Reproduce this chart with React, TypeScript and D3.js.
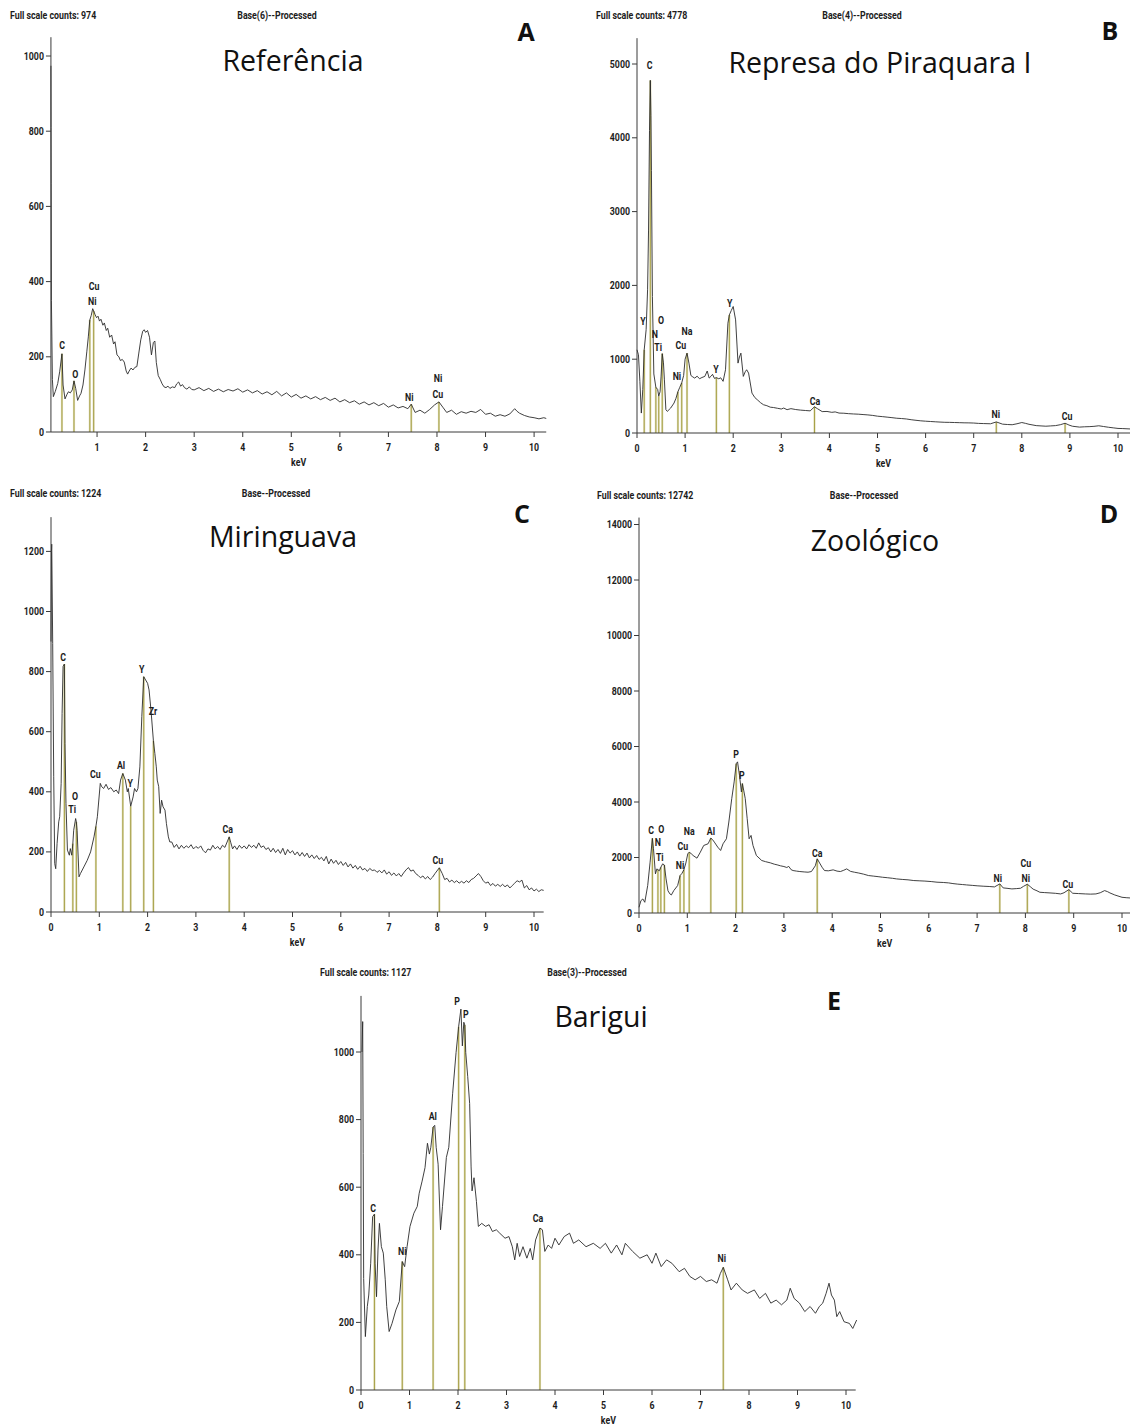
import React from 'react';
import * as d3 from 'd3';

type Pt = [number, number];
type Lbl = { t: string; e: number; c: number };

// ---------- Spectrum A: Referência ----------
const spectrumA: Pt[] = [
  [0.05, 974], [0.052, 810], [0.055, 660], [0.06, 350], [0.08, 140], [0.1, 94], [0.14, 108], [0.19, 129], [0.23, 160],
  [0.277, 208], [0.3, 125], [0.34, 88], [0.38, 100], [0.41, 107], [0.45, 104], [0.49, 112], [0.525, 136], [0.56, 116],
  [0.6, 84], [0.64, 96], [0.67, 103], [0.71, 125], [0.75, 165], [0.79, 215], [0.82, 253], [0.851, 298], [0.88, 310],
  [0.91, 328], [0.93, 322], [0.96, 312], [0.99, 304], [1.02, 308], [1.05, 295], [1.08, 300], [1.12, 284], [1.15, 290],
  [1.19, 270], [1.22, 276], [1.26, 252], [1.3, 258], [1.34, 234], [1.37, 240], [1.41, 205], [1.45, 200], [1.48, 190],
  [1.52, 193], [1.56, 186], [1.6, 162], [1.63, 154], [1.66, 162], [1.7, 170], [1.74, 165], [1.78, 172], [1.82, 174],
  [1.86, 210], [1.9, 245], [1.94, 268], [1.97, 272], [2.0, 265], [2.04, 270], [2.08, 252], [2.12, 205], [2.16, 238],
  [2.19, 242], [2.22, 185], [2.26, 150], [2.3, 140], [2.34, 128], [2.38, 120], [2.42, 118], [2.46, 122], [2.5, 116],
  [2.55, 120], [2.6, 118], [2.64, 128], [2.68, 133], [2.72, 122], [2.76, 126], [2.8, 118], [2.85, 114], [2.9, 120],
  [2.95, 113], [3.0, 112], [3.1, 118], [3.2, 110], [3.3, 116], [3.4, 108], [3.5, 114], [3.6, 107], [3.7, 113],
  [3.8, 109], [3.9, 115], [4.0, 106], [4.1, 112], [4.2, 104], [4.3, 110], [4.4, 101], [4.5, 107], [4.6, 99],
  [4.7, 108], [4.8, 96], [4.9, 104], [5.0, 93], [5.1, 100], [5.2, 90], [5.3, 96], [5.4, 88], [5.5, 94], [5.6, 86],
  [5.7, 92], [5.8, 84], [5.9, 90], [6.0, 80], [6.1, 86], [6.2, 78], [6.3, 83], [6.4, 74], [6.5, 80], [6.6, 72],
  [6.7, 78], [6.8, 70], [6.9, 76], [7.0, 66], [7.1, 72], [7.2, 64], [7.3, 68], [7.4, 62], [7.47, 74], [7.55, 52],
  [7.65, 58], [7.75, 50], [7.85, 60], [7.95, 72], [8.04, 80], [8.12, 66], [8.2, 52], [8.3, 58], [8.4, 47], [8.5, 54],
  [8.6, 50], [8.7, 55], [8.8, 52], [8.9, 60], [9.0, 47], [9.1, 50], [9.2, 42], [9.3, 46], [9.4, 42], [9.5, 48],
  [9.6, 62], [9.65, 55], [9.7, 50], [9.8, 44], [9.9, 40], [10.0, 38], [10.1, 35], [10.2, 38], [10.25, 36],
];
const linesA = [0.277, 0.525, 0.851, 0.93, 7.47, 8.04];
const labelsA: Lbl[] = [
  { t: 'C', e: 0.28, c: 229 }, { t: 'O', e: 0.55, c: 152 }, { t: 'Cu', e: 0.94, c: 386 }, { t: 'Ni', e: 0.9, c: 348 },
  { t: 'Ni', e: 7.43, c: 93 }, { t: 'Ni', e: 8.02, c: 141 }, { t: 'Cu', e: 8.02, c: 101 },
];
const yTicksA = [0, 200, 400, 600, 800, 1000];
const xTicksA = [1, 2, 3, 4, 5, 6, 7, 8, 9, 10];

// ---------- Spectrum B: Represa do Piraquara I ----------
const spectrumB: Pt[] = [
  [0, 1128], [0.03, 1060], [0.06, 700], [0.09, 270], [0.12, 590], [0.15, 1128], [0.19, 1400], [0.22, 1940],
  [0.24, 2750], [0.26, 4100], [0.277, 4778], [0.29, 4300], [0.3, 3560], [0.32, 1850], [0.35, 800], [0.392, 620],
  [0.43, 590], [0.452, 500], [0.48, 560], [0.5, 760], [0.525, 1075], [0.55, 950], [0.57, 720], [0.6, 316],
  [0.63, 293], [0.7, 338], [0.77, 406], [0.81, 470], [0.851, 560], [0.89, 620], [0.93, 680], [0.97, 780],
  [1.0, 1000], [1.04, 1082], [1.08, 947], [1.12, 780], [1.16, 760], [1.2, 744], [1.25, 770], [1.3, 735],
  [1.35, 752], [1.41, 767], [1.46, 840], [1.5, 744], [1.54, 770], [1.57, 795], [1.61, 740], [1.65, 750],
  [1.7, 735], [1.74, 748], [1.79, 700], [1.84, 857], [1.89, 1488], [1.92, 1600], [1.96, 1660], [2.0, 1714],
  [2.05, 1533], [2.1, 947], [2.13, 1030], [2.16, 1082], [2.21, 767], [2.25, 830], [2.28, 857], [2.32, 812],
  [2.39, 541], [2.45, 480], [2.5, 451], [2.57, 410], [2.63, 383], [2.7, 370], [2.77, 350], [2.84, 345],
  [2.92, 335], [3.0, 325], [3.05, 338], [3.12, 316], [3.2, 330], [3.3, 318], [3.4, 310], [3.5, 305], [3.6, 300],
  [3.69, 355], [3.75, 330], [3.85, 290], [3.95, 292], [4.05, 280], [4.12, 286], [4.2, 270], [4.3, 268],
  [4.4, 262], [4.5, 258], [4.6, 255], [4.7, 250], [4.8, 245], [4.9, 238], [5.0, 228], [5.1, 222], [5.2, 215],
  [5.3, 208], [5.4, 200], [5.5, 196], [5.6, 190], [5.7, 180], [5.8, 172], [5.9, 165], [6.0, 160], [6.1, 156],
  [6.2, 152], [6.3, 148], [6.4, 145], [6.5, 144], [6.6, 142], [6.7, 140], [6.8, 138], [6.9, 137], [7.0, 135],
  [7.1, 130], [7.2, 128], [7.35, 125], [7.47, 150], [7.6, 120], [7.7, 115], [7.8, 112], [7.9, 125], [8.0, 142],
  [8.08, 130], [8.15, 118], [8.3, 100], [8.4, 96], [8.5, 92], [8.6, 96], [8.7, 100], [8.8, 112], [8.9, 132],
  [8.98, 108], [9.05, 92], [9.2, 80], [9.3, 84], [9.4, 86], [9.5, 90], [9.6, 98], [9.7, 88], [9.8, 78],
  [9.9, 70], [10.0, 62], [10.1, 60], [10.25, 55],
];
const linesB = [0.15, 0.277, 0.392, 0.452, 0.525, 0.851, 0.93, 1.04, 1.65, 1.92, 3.69, 7.47, 8.9];
const labelsB: Lbl[] = [
  { t: 'C', e: 0.26, c: 4980 }, { t: 'Y', e: 0.125, c: 1517 }, { t: 'O', e: 0.5, c: 1530 }, { t: 'N', e: 0.37, c: 1340 },
  { t: 'Ti', e: 0.44, c: 1165 }, { t: 'Na', e: 1.04, c: 1370 }, { t: 'Cu', e: 0.91, c: 1180 }, { t: 'Ni', e: 0.83, c: 760 },
  { t: 'Y', e: 1.64, c: 867 }, { t: 'Y', e: 1.93, c: 1760 }, { t: 'Ca', e: 3.7, c: 433 }, { t: 'Ni', e: 7.46, c: 244 },
  { t: 'Cu', e: 8.94, c: 217 },
];
const yTicksB = [0, 1000, 2000, 3000, 4000, 5000];
const xTicksB = [0, 1, 2, 3, 4, 5, 6, 7, 8, 9, 10];

// ---------- Spectrum C: Miringuava ----------
const spectrumC: Pt[] = [
  [0, 900], [0.01, 1200], [0.015, 1224], [0.035, 894], [0.056, 450], [0.077, 161], [0.098, 144], [0.126, 228],
  [0.16, 300], [0.18, 317], [0.21, 428], [0.23, 661], [0.25, 817], [0.277, 825], [0.29, 561], [0.31, 361],
  [0.34, 206], [0.38, 189], [0.4, 211], [0.43, 189], [0.452, 228], [0.47, 272], [0.51, 311], [0.525, 300],
  [0.54, 272], [0.58, 117], [0.61, 128], [0.68, 150], [0.75, 172], [0.82, 200], [0.89, 250], [0.93, 285],
  [0.96, 317], [1.02, 428], [1.05, 417], [1.09, 411], [1.14, 425], [1.19, 408], [1.24, 414], [1.3, 400],
  [1.35, 406], [1.4, 394], [1.44, 439], [1.487, 461], [1.54, 439], [1.58, 400], [1.6, 411], [1.65, 352],
  [1.7, 383], [1.73, 411], [1.77, 400], [1.8, 411], [1.84, 483], [1.88, 650], [1.92, 783], [1.96, 772],
  [2.0, 761], [2.03, 739], [2.07, 672], [2.12, 570], [2.15, 528], [2.18, 483], [2.2, 439], [2.23, 417],
  [2.26, 328], [2.29, 372], [2.32, 350], [2.36, 339], [2.39, 294], [2.43, 250], [2.46, 233], [2.5, 233],
  [2.55, 215], [2.6, 225], [2.65, 210], [2.7, 222], [2.75, 212], [2.8, 220], [2.85, 214], [2.9, 224], [2.95, 210],
  [3.0, 218], [3.05, 212], [3.1, 220], [3.15, 205], [3.2, 197], [3.25, 210], [3.3, 206], [3.35, 222], [3.4, 210],
  [3.45, 218], [3.5, 208], [3.55, 222], [3.6, 215], [3.69, 250], [3.72, 232], [3.76, 210], [3.8, 220], [3.85, 208],
  [3.9, 222], [3.95, 212], [4.0, 220], [4.05, 210], [4.1, 224], [4.15, 215], [4.2, 222], [4.25, 212], [4.3, 230],
  [4.35, 215], [4.4, 220], [4.45, 208], [4.5, 214], [4.55, 200], [4.6, 212], [4.65, 198], [4.7, 208], [4.75, 195],
  [4.8, 212], [4.85, 190], [4.9, 208], [4.95, 196], [5.0, 204], [5.05, 190], [5.1, 200], [5.15, 186], [5.2, 198],
  [5.25, 185], [5.3, 196], [5.35, 180], [5.4, 190], [5.45, 178], [5.5, 188], [5.55, 175], [5.6, 182], [5.65, 170],
  [5.7, 185], [5.75, 160], [5.8, 176], [5.85, 162], [5.9, 172], [5.95, 158], [6.0, 168], [6.05, 155], [6.1, 165],
  [6.15, 150], [6.2, 160], [6.25, 146], [6.3, 155], [6.35, 142], [6.4, 152], [6.45, 140], [6.5, 145], [6.55, 135],
  [6.6, 145], [6.65, 138], [6.7, 140], [6.75, 132], [6.8, 138], [6.85, 130], [6.9, 140], [6.95, 126], [7.0, 134],
  [7.05, 122], [7.1, 130], [7.15, 120], [7.2, 128], [7.25, 118], [7.3, 130], [7.35, 140], [7.4, 148], [7.45, 136],
  [7.5, 140], [7.55, 128], [7.6, 122], [7.65, 114], [7.7, 120], [7.75, 110], [7.8, 118], [7.85, 108], [7.9, 116],
  [7.95, 128], [8.04, 147], [8.1, 128], [8.15, 108], [8.2, 112], [8.25, 100], [8.3, 106], [8.35, 98], [8.4, 104],
  [8.45, 96], [8.5, 102], [8.55, 96], [8.6, 104], [8.65, 98], [8.7, 108], [8.75, 112], [8.8, 120], [8.85, 128],
  [8.9, 118], [8.95, 104], [9.0, 96], [9.05, 100], [9.1, 88], [9.15, 95], [9.2, 86], [9.25, 92], [9.3, 85],
  [9.35, 92], [9.4, 84], [9.45, 90], [9.5, 80], [9.55, 88], [9.6, 96], [9.65, 104], [9.7, 100], [9.75, 106],
  [9.8, 80], [9.85, 88], [9.9, 74], [9.95, 80], [10.0, 70], [10.05, 76], [10.1, 68], [10.15, 74], [10.2, 72],
];
const linesC = [0.277, 0.452, 0.525, 0.93, 1.487, 1.65, 1.92, 2.12, 3.69, 8.04];
const labelsC: Lbl[] = [
  { t: 'C', e: 0.25, c: 848 }, { t: 'O', e: 0.5, c: 383 }, { t: 'Ti', e: 0.44, c: 340 }, { t: 'Cu', e: 0.92, c: 456 },
  { t: 'Al', e: 1.45, c: 486 }, { t: 'Y', e: 1.64, c: 426 }, { t: 'Y', e: 1.88, c: 807 }, { t: 'Zr', e: 2.11, c: 668 },
  { t: 'Ca', e: 3.66, c: 273 }, { t: 'Cu', e: 8.01, c: 173 },
];
const yTicksC = [0, 200, 400, 600, 800, 1000, 1200];
const xTicksC = [0, 1, 2, 3, 4, 5, 6, 7, 8, 9, 10];

// ---------- Spectrum D: Zoológico ----------
const spectrumD: Pt[] = [
  [0, 205], [0.04, 446], [0.08, 506], [0.12, 386], [0.18, 988], [0.23, 1832], [0.277, 2690], [0.3, 2314],
  [0.34, 1410], [0.37, 1590], [0.392, 1560], [0.42, 1520], [0.452, 1650], [0.49, 1771], [0.525, 1730],
  [0.56, 1229], [0.6, 800], [0.64, 687], [0.67, 650], [0.72, 807], [0.8, 988], [0.851, 1350], [0.89, 1430],
  [0.93, 1560], [0.97, 1800], [1.01, 2133], [1.04, 2190], [1.08, 2140], [1.12, 2073], [1.2, 1976], [1.27, 2193],
  [1.34, 2434], [1.43, 2494], [1.487, 2699], [1.52, 2650], [1.56, 2555], [1.63, 2374], [1.69, 2253], [1.74, 2494],
  [1.81, 2675], [1.86, 3278], [1.92, 4121], [1.97, 4724], [2.013, 5380], [2.04, 5447], [2.08, 4965], [2.12, 4362],
  [2.14, 4663], [2.17, 4400], [2.2, 4121], [2.24, 3398], [2.28, 2675], [2.32, 2796], [2.36, 2434], [2.43, 2073],
  [2.54, 1892], [2.62, 1850], [2.72, 1807], [2.8, 1760], [2.86, 1735], [2.93, 1700], [3.0, 1675], [3.06, 1640],
  [3.1, 1680], [3.15, 1560], [3.19, 1530], [3.26, 1510], [3.33, 1494], [3.42, 1480], [3.5, 1470], [3.57, 1494],
  [3.65, 1700], [3.69, 1952], [3.74, 1800], [3.79, 1650], [3.84, 1530], [3.92, 1520], [4.02, 1555], [4.1, 1510],
  [4.17, 1494], [4.24, 1540], [4.3, 1590], [4.38, 1500], [4.46, 1470], [4.55, 1440], [4.65, 1400], [4.75, 1350],
  [4.85, 1330], [4.95, 1310], [5.04, 1289], [5.15, 1270], [5.25, 1250], [5.33, 1229], [5.45, 1210], [5.57, 1195],
  [5.69, 1169], [5.8, 1160], [5.92, 1150], [6.05, 1133], [6.17, 1110], [6.3, 1100], [6.41, 1085], [6.5, 1060],
  [6.6, 1040], [6.7, 1025], [6.78, 1012], [6.9, 995], [7.0, 980], [7.14, 964], [7.25, 955], [7.36, 940],
  [7.47, 1048], [7.54, 904], [7.62, 890], [7.72, 868], [7.82, 880], [7.9, 892], [7.96, 960], [8.04, 1036],
  [8.1, 950], [8.16, 860], [8.24, 800], [8.3, 747], [8.4, 735], [8.51, 723], [8.62, 710], [8.73, 687], [8.8, 730],
  [8.9, 843], [8.98, 711], [9.1, 700], [9.24, 687], [9.35, 680], [9.46, 687], [9.55, 730], [9.64, 807], [9.7, 770],
  [9.75, 723], [9.85, 650], [10.0, 566], [10.1, 550], [10.17, 542],
];
const linesD = [0.277, 0.392, 0.452, 0.525, 0.851, 0.93, 1.04, 1.487, 2.013, 2.14, 3.69, 7.47, 8.04, 8.9];
const labelsD: Lbl[] = [
  { t: 'C', e: 0.25, c: 2955 }, { t: 'O', e: 0.46, c: 3027 }, { t: 'N', e: 0.39, c: 2523 }, { t: 'Ti', e: 0.43, c: 2018 },
  { t: 'Na', e: 1.04, c: 2919 }, { t: 'Cu', e: 0.91, c: 2414 }, { t: 'Ni', e: 0.85, c: 1694 }, { t: 'Al', e: 1.49, c: 2919 },
  { t: 'P', e: 2.01, c: 5694 }, { t: 'P', e: 2.13, c: 4937 }, { t: 'Ca', e: 3.69, c: 2162 }, { t: 'Ni', e: 7.43, c: 1261 },
  { t: 'Cu', e: 8.01, c: 1766 }, { t: 'Ni', e: 8.01, c: 1261 }, { t: 'Cu', e: 8.88, c: 1045 },
];
const yTicksD = [0, 2000, 4000, 6000, 8000, 10000, 12000, 14000];
const xTicksD = [0, 1, 2, 3, 4, 5, 6, 7, 8, 9, 10];

// ---------- Spectrum E: Barigui ----------
const spectrumE: Pt[] = [
  [0.02, 1000], [0.035, 1090], [0.045, 700], [0.055, 330], [0.09, 158], [0.13, 247], [0.16, 281], [0.2, 375],
  [0.24, 513], [0.277, 520], [0.29, 375], [0.32, 276], [0.35, 414], [0.38, 493], [0.42, 424], [0.46, 405],
  [0.5, 326], [0.53, 247], [0.58, 173], [0.64, 197], [0.72, 237], [0.79, 262], [0.851, 380], [0.9, 365],
  [0.95, 424], [1.01, 484], [1.09, 523], [1.16, 543], [1.2, 582], [1.26, 618], [1.32, 658], [1.37, 730],
  [1.41, 698], [1.44, 718], [1.487, 778], [1.52, 783], [1.55, 718], [1.59, 668], [1.64, 474], [1.68, 543],
  [1.76, 688], [1.81, 718], [1.89, 878], [1.96, 998], [2.013, 1075], [2.06, 1127], [2.09, 1018], [2.12, 1088],
  [2.14, 1080], [2.16, 998], [2.2, 928], [2.24, 848], [2.27, 660], [2.29, 589], [2.33, 628], [2.38, 558],
  [2.42, 484], [2.49, 493], [2.57, 484], [2.64, 489], [2.71, 469], [2.79, 474], [2.86, 464], [2.97, 449],
  [3.05, 454], [3.12, 424], [3.17, 385], [3.22, 434], [3.27, 395], [3.34, 424], [3.42, 390], [3.49, 419],
  [3.54, 385], [3.6, 444], [3.69, 479], [3.74, 474], [3.79, 410], [3.86, 429], [3.93, 419], [4.0, 449],
  [4.08, 429], [4.19, 454], [4.3, 464], [4.38, 434], [4.49, 444], [4.64, 424], [4.79, 434], [4.93, 419],
  [5.04, 434], [5.16, 405], [5.27, 429], [5.38, 400], [5.45, 434], [5.6, 410], [5.75, 390], [5.9, 400],
  [6.0, 375], [6.08, 405], [6.19, 365], [6.3, 385], [6.41, 375], [6.56, 350], [6.67, 360], [6.78, 336],
  [6.89, 326], [7.0, 336], [7.12, 321], [7.23, 326], [7.34, 316], [7.41, 345], [7.47, 363], [7.56, 326],
  [7.63, 296], [7.74, 316], [7.86, 296], [7.97, 286], [8.11, 296], [8.22, 271], [8.34, 286], [8.45, 257],
  [8.56, 266], [8.67, 252], [8.78, 266], [8.85, 301], [8.93, 271], [9.04, 257], [9.15, 232], [9.26, 247],
  [9.37, 227], [9.45, 247], [9.52, 257], [9.59, 286], [9.65, 316], [9.7, 281], [9.76, 266], [9.81, 217],
  [9.87, 232], [9.96, 202], [10.07, 197], [10.14, 182], [10.22, 207],
];
const linesE = [0.277, 0.851, 1.487, 2.013, 2.14, 3.69, 7.47];
const labelsE: Lbl[] = [
  { t: 'C', e: 0.25, c: 538 }, { t: 'Ni', e: 0.85, c: 411 }, { t: 'Al', e: 1.48, c: 808 }, { t: 'P', e: 1.98, c: 1150 },
  { t: 'P', e: 2.16, c: 1112 }, { t: 'Ca', e: 3.65, c: 506 }, { t: 'Ni', e: 7.44, c: 388 },
];
const yTicksE = [0, 200, 400, 600, 800, 1000];
const xTicksE = [0, 1, 2, 3, 4, 5, 6, 7, 8, 9, 10];

const titles = ['Referência', 'Represa do Piraquara I', 'Miringuava', 'Zoológico', 'Barigui'];
const letters = ['A', 'B', 'C', 'D', 'E'];
const fullScale = ['Full scale counts: 974', 'Full scale counts: 4778', 'Full scale counts: 1224', 'Full scale counts: 12742', 'Full scale counts: 1127'];
const processing = ['Base(6)--Processed', 'Base(4)--Processed', 'Base--Processed', 'Base--Processed', 'Base(3)--Processed'];

// Panel frames (pixel layout of each spectrum plot)
interface Frame {
  x0: number; ppk: number; xStart: number; xMax: number;
  yBase: number; ppc: number; yMax: number;
  headY: number; headX: number; procX: number;
  titleX: number; titleY: number; letterX: number; letterY: number;
}
const frames: Frame[] = [
  { x0: 48.5, ppk: 48.56, xStart: 0.05, xMax: 10.25, yBase: 432, ppc: 0.376, yMax: 1050, headY: 19, headX: 10, procX: 277, titleX: 293, titleY: 71, letterX: 526, letterY: 41 },
  { x0: 637, ppk: 48.1, xStart: 0, xMax: 10.25, yBase: 433, ppc: 0.0738, yMax: 5350, headY: 19, headX: 596, procX: 862, titleX: 880, titleY: 73, letterX: 1110, letterY: 40 },
  { x0: 51, ppk: 48.3, xStart: 0, xMax: 10.2, yBase: 912, ppc: 0.3005, yMax: 1314, headY: 497, headX: 10, procX: 276, titleX: 283, titleY: 547, letterX: 522, letterY: 523 },
  { x0: 639, ppk: 48.3, xStart: 0, xMax: 10.17, yBase: 913, ppc: 0.02775, yMax: 14250, headY: 499, headX: 597, procX: 864, titleX: 875, titleY: 551, letterX: 1109, letterY: 523 },
  { x0: 361, ppk: 48.5, xStart: 0, xMax: 10.2, yBase: 1390, ppc: 0.338, yMax: 1166, headY: 976, headX: 320, procX: 587, titleX: 601, titleY: 1027, letterX: 834, letterY: 1010 },
];

const spectra = [spectrumA, spectrumB, spectrumC, spectrumD, spectrumE];
const lineSets = [linesA, linesB, linesC, linesD, linesE];
const labelSets = [labelsA, labelsB, labelsC, labelsD, labelsE];
const yTickSets = [yTicksA, yTicksB, yTicksC, yTicksD, yTicksE];
const xTickSets = [xTicksA, xTicksB, xTicksC, xTicksD, xTicksE];

const SMALL_FONT = "Roboto, 'Liberation Sans', sans-serif";
const TITLE_FONT = "'Open Sans', Lato, 'Noto Sans', sans-serif";
const SQUEEZE = 0.88;

// Narrow instrument-style lettering: a regular face compressed horizontally
function Small({ x, y, anchor = 'start', dy, children }: { x: number; y: number; anchor?: string; dy?: string; children: React.ReactNode }) {
  return (
    <text
      transform={`translate(${x},${y}) scale(${SQUEEZE},1)`}
      textAnchor={anchor as any}
      dy={dy}
      fontFamily={SMALL_FONT}
      fontSize={10}
      fontWeight={700}
      fill="#1c1c1c"
    >
      {children}
    </text>
  );
}

function valueAt(data: Pt[], e: number): number {
  const bis = d3.bisector((d: Pt) => d[0]).left;
  const i = bis(data, e);
  if (i <= 0) return data[0][1];
  if (i >= data.length) return data[data.length - 1][1];
  const a = data[i - 1], b = data[i];
  const t = (e - a[0]) / (b[0] - a[0]);
  return a[1] + t * (b[1] - a[1]);
}

function Spectrum({ idx }: { idx: number }) {
  const f = frames[idx];
  const data = spectra[idx];
  const x = d3.scaleLinear().domain([0, f.xMax]).range([f.x0, f.x0 + f.xMax * f.ppk]);
  const y = d3.scaleLinear().domain([0, f.yMax]).range([f.yBase, f.yBase - f.yMax * f.ppc]);
  const path = d3.line<Pt>().x(d => x(d[0])).y(d => y(d[1]))(data) || '';
  const axisX = x(f.xStart);

  return (
    <g>
      <Small x={f.headX} y={f.headY}>{fullScale[idx]}</Small>
      <Small x={f.procX} y={f.headY} anchor="middle">{processing[idx]}</Small>
      <text x={f.titleX} y={f.titleY} textAnchor="middle" fontFamily={TITLE_FONT} fontSize={28.5} fill="#111">{titles[idx]}</text>
      <text x={f.letterX} y={f.letterY} textAnchor="middle" fontFamily={TITLE_FONT} fontWeight={700} fontSize={25} fill="#111">{letters[idx]}</text>

      {/* element identification lines */}
      {lineSets[idx].map((e, i) => (
        <g key={'m' + i}>
          <line x1={x(e)} x2={x(e)} y1={y(0)} y2={y(valueAt(data, e))} stroke="#e2dfbd" strokeWidth={2.2} />
          <line x1={x(e)} x2={x(e)} y1={y(0)} y2={y(valueAt(data, e))} stroke="#9f9838" strokeWidth={0.9} />
        </g>
      ))}

      <path d={path} fill="none" stroke="#2b2b2b" strokeWidth={0.9} strokeLinejoin="round" />

      {/* axes */}
      <line x1={axisX} x2={axisX} y1={y(0)} y2={y(f.yMax)} stroke="#3a3a3a" strokeWidth={1} />
      <line x1={axisX} x2={x(f.xMax)} y1={y(0)} y2={y(0)} stroke="#3a3a3a" strokeWidth={1} />
      {yTickSets[idx].map(t => (
        <g key={'y' + t}>
          <line x1={axisX - 5} x2={axisX} y1={y(t)} y2={y(t)} stroke="#3a3a3a" />
          <Small x={axisX - 7} y={y(t)} dy="0.35em" anchor="end">{t}</Small>
        </g>
      ))}
      {xTickSets[idx].map(t => (
        <g key={'x' + t}>
          <line x1={x(t)} x2={x(t)} y1={y(0)} y2={y(0) + 5} stroke="#3a3a3a" />
          <Small x={x(t)} y={y(0) + 19} anchor="middle">{t}</Small>
        </g>
      ))}
      <Small x={(axisX + x(f.xMax)) / 2} y={y(0) + 34} anchor="middle">keV</Small>

      {labelSets[idx].map((l, i) => (
        <Small key={'l' + i} x={x(l.e)} y={y(l.c)} dy="0.35em" anchor="middle">{l.t}</Small>
      ))}
    </g>
  );
}

export default function App() {
  return (
    <svg width={1130} height={1427} style={{ position: 'absolute', left: 0, top: 0, background: '#fff' }}>
      <rect width={1130} height={1427} fill="#fff" />
      {frames.map((_, i) => <Spectrum key={i} idx={i} />)}
    </svg>
  );
}
